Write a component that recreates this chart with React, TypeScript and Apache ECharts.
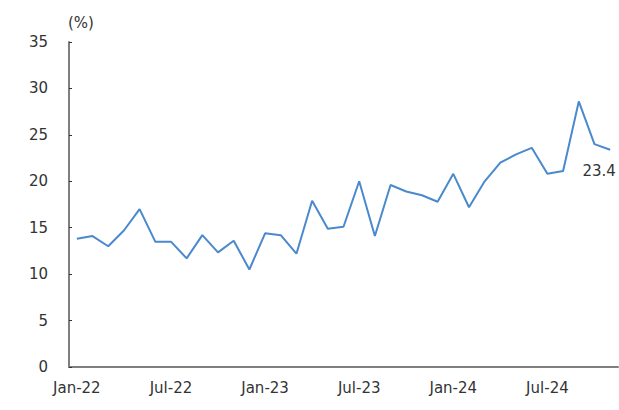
import React, { useEffect, useRef } from "react";
import * as echarts from "echarts";

const categories = [
  "Jan-22", "Feb-22", "Mar-22", "Apr-22", "May-22", "Jun-22", "Jul-22", "Aug-22", "Sep-22", "Oct-22", "Nov-22", "Dec-22",
  "Jan-23", "Feb-23", "Mar-23", "Apr-23", "May-23", "Jun-23", "Jul-23", "Aug-23", "Sep-23", "Oct-23", "Nov-23", "Dec-23",
  "Jan-24", "Feb-24", "Mar-24", "Apr-24", "May-24", "Jun-24", "Jul-24", "Aug-24", "Sep-24", "Oct-24", "Nov-24",
];

const values = [
  13.8, 14.1, 13.0, 14.7, 17.0, 13.5, 13.5, 11.7, 14.2, 12.35, 13.6, 10.5,
  14.4, 14.2, 12.2, 17.9, 14.9, 15.1, 20.0, 14.1, 19.6, 18.9, 18.5, 17.8,
  20.8, 17.2, 20.0, 22.0, 22.9, 23.6, 20.8, 21.1, 28.6, 24.0, 23.4,
];

const yTicks = [0, 5, 10, 15, 20, 25, 30, 35];
const unitLabel = "(%)";

const FONT = "'DejaVu Sans', 'Liberation Sans', sans-serif";

export default function App() {
  const ref = useRef<HTMLDivElement>(null);
  useEffect(() => {
    if (!ref.current) return;
    const chart = echarts.init(ref.current, undefined, { renderer: "svg" });
    chart.setOption({
      animation: false,
      grid: { left: 69, right: 1, top: 42, bottom: 43, containLabel: false },
      xAxis: {
        type: "category",
        data: categories,
        boundaryGap: true,
        axisLine: { lineStyle: { color: "#7f7f7f", width: 2 } },
        axisTick: { inside: true, length: 4, interval: 2, lineStyle: { color: "#333", width: 1 } },
        axisLabel: { interval: 5, margin: 13, color: "#333", fontSize: 15, fontFamily: FONT },
        splitLine: { show: false },
      },
      yAxis: {
        type: "value",
        min: yTicks[0],
        max: yTicks[yTicks.length - 1],
        interval: 5,
        name: unitLabel,
        nameLocation: "end",
        nameGap: 12,
        nameTextStyle: { color: "#333", fontSize: 15, fontFamily: FONT, align: "left", padding: [0, 0, 0, -1] },
        axisLine: { show: true, lineStyle: { color: "#7f7f7f", width: 2 } },
        axisTick: { show: true, inside: true, length: 3, lineStyle: { color: "#333", width: 1 } },
        axisLabel: { margin: 21, color: "#333", fontSize: 15, fontFamily: FONT },
        splitLine: { show: false },
      },
      series: [
        {
          type: "line",
          data: values,
          symbol: "none",
          lineStyle: { color: "#4A89CD", width: 2 },
          itemStyle: { color: "#4A89CD" },
          endLabel: {
            show: true,
            distance: 0,
            offset: [-11, 21],
            align: "center",
            verticalAlign: "middle",
            color: "#333",
            fontSize: 15,
            fontFamily: FONT,
            formatter: (p: any) => String(p.value),
          },
        },
      ],
    });
    return () => chart.dispose();
  }, []);
  return (
    <div
      ref={ref}
      style={{ position: "fixed", left: 0, top: 0, width: 619, height: 410, background: "#fff" }}
    />
  );
}
